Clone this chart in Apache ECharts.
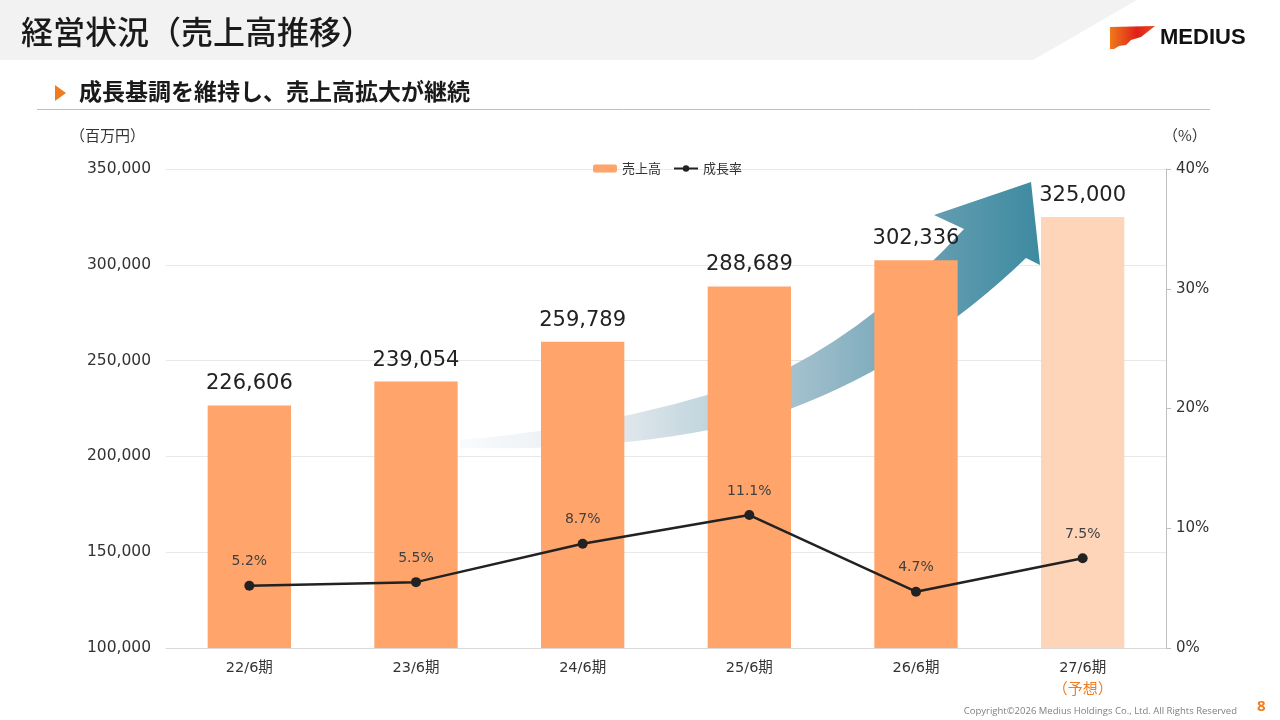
<!DOCTYPE html>
<html>
<head>
<meta charset="utf-8">
<script src="https://cdn.jsdelivr.net/npm/echarts@6/dist/echarts.min.js"></script>
<style>
  html, body { margin: 0; padding: 0; background: #fff; }
  #chart { width: 1280px; height: 720px; }
</style>
</head>
<body>
<div id="chart"></div>
<script>
const categories = ['22/6期', '23/6期', '24/6期', '25/6期', '26/6期', '27/6期'];
const sales = [226606, 239054, 259789, 288689, 302336, 325000];
const growth = [5.2, 5.5, 8.7, 11.1, 4.7, 7.5];
const forecast = [false, false, false, false, false, true];
const leftTicks = { min: 100000, max: 350000, interval: 50000 };
const rightTicks = { min: 0, max: 40, interval: 10 };

const JP = '"Noto Sans CJK JP", "Noto Sans", sans-serif';
const NUM = '"DejaVu Sans", "Noto Sans CJK JP", sans-serif';
const BAR = '#ffa46a';
const BAR_FC = '#ffd5ba';
const ORANGE = '#f07c1e';

// decorative growth arrow behind the bars
echarts.graphic.registerShape('growthArrow', echarts.graphic.extendShape({
  shape: {},
  buildPath(ctx) {
    ctx.moveTo(460, 440);
    ctx.quadraticCurveTo(640, 425, 790, 367);
    ctx.quadraticCurveTo(880, 320, 964, 229);
    ctx.lineTo(934, 215);
    ctx.lineTo(1031, 182);
    ctx.lineTo(1040, 265);
    ctx.lineTo(1026, 258);
    ctx.quadraticCurveTo(920, 360, 790, 409);
    ctx.quadraticCurveTo(660, 452, 460, 448);
    ctx.closePath();
  }
}));

const barData = sales.map((v, i) => ({
  value: v,
  itemStyle: { color: forecast[i] ? BAR_FC : BAR }
}));

const chart = echarts.init(document.getElementById('chart'));
chart.setOption({
  backgroundColor: '#fff',
  animation: false,
  textStyle: { fontFamily: NUM },
  grid: { left: 166, right: 114, top: 169, bottom: 72 },
  legend: {
    left: 588, top: 157,
    itemWidth: 24, itemHeight: 8, itemGap: 12,
    textStyle: { fontSize: 13, color: '#333', fontFamily: JP },
    data: ['売上高', '成長率']
  },
  xAxis: {
    type: 'category',
    data: categories,
    axisLine: { lineStyle: { color: '#d9d9d9', width: 1 } },
    axisTick: { show: false },
    axisLabel: {
      margin: 10, fontSize: 14.5, color: '#333', lineHeight: 20, fontFamily: NUM,
      formatter: (v, i) => forecast[i] ? v + '\n{f|（予想）}' : v,
      rich: { f: { color: ORANGE, fontSize: 15, lineHeight: 20, fontFamily: JP } }
    }
  },
  yAxis: [
    {
      type: 'value', ...leftTicks,
      axisLine: { show: false },
      axisTick: { show: false },
      splitLine: { lineStyle: { color: '#e8e8e8' } },
      axisLabel: {
        margin: 15, fontSize: 15.5, color: '#333', fontFamily: NUM,
        formatter: v => v.toLocaleString('en-US')
      }
    },
    {
      type: 'value', ...rightTicks,
      position: 'right',
      axisLine: { show: true, lineStyle: { color: '#bfbfbf' } },
      axisTick: { show: true, length: 5, lineStyle: { color: '#bfbfbf' } },
      splitLine: { show: false },
      axisLabel: { margin: 10, fontSize: 15, color: '#333', fontFamily: NUM, formatter: '{value}%' }
    }
  ],
  series: [
    {
      name: '売上高',
      type: 'bar',
      barWidth: '50%',
      itemStyle: { color: BAR },
      data: barData,
      label: {
        show: true, position: 'top', distance: 11,
        fontSize: 21, color: '#222', fontFamily: NUM,
        formatter: p => p.value.toLocaleString('en-US')
      },
      z: 3
    },
    {
      name: '成長率',
      type: 'line',
      yAxisIndex: 1,
      data: growth,
      symbol: 'circle',
      symbolSize: 10,
      lineStyle: { color: '#222', width: 2.5 },
      itemStyle: { color: '#222' },
      label: {
        show: true, position: 'top', distance: 12,
        fontSize: 14, color: '#404040', fontFamily: NUM,
        formatter: p => p.value + '%'
      },
      z: 4
    }
  ],
  graphic: [
    // header band
    { type: 'polygon', z: -10, shape: { points: [[0, 0], [1137, 0], [1033, 60], [0, 60]] },
      style: { fill: '#f2f2f2' } },
    { type: 'text', x: 21, y: 16,
      style: { text: '経営状況（売上高推移）', fontSize: 32, fontWeight: 500, fill: '#1a1a1a', fontFamily: JP } },
    // logo
    { type: 'polygon', shape: { points: [[1110, 27], [1155, 26], [1141, 37], [1131, 40], [1126, 45], [1119, 46], [1114, 49], [1110, 49]] },
      style: { fill: { type: 'linear', x: 0, y: 0, x2: 1, y2: 0,
        colorStops: [{ offset: 0, color: '#f07a1a' }, { offset: 0.6, color: '#e0201a' }, { offset: 1, color: '#e84a1a' }] } } },
    { type: 'text', x: 1160, y: 27,
      style: { text: 'MEDIUS', fontSize: 22, fontWeight: 'bold', fill: '#111', fontFamily: '"Liberation Sans", Arial, sans-serif' } },
    // subtitle
    { type: 'polygon', shape: { points: [[55, 85], [66, 93], [55, 101]] }, style: { fill: ORANGE } },
    { type: 'text', x: 79, y: 80,
      style: { text: '成長基調を維持し、売上高拡大が継続', fontSize: 23, fontWeight: 'bold', fill: '#1a1a1a', fontFamily: JP } },
    { type: 'line', shape: { x1: 37, y1: 109.5, x2: 1210, y2: 109.5 }, style: { stroke: '#bfbfbf', lineWidth: 1 } },
    // axis units
    { type: 'text', x: 70, y: 128, style: { text: '（百万円）', fontSize: 15, fill: '#333', fontFamily: JP } },
    { type: 'text', x: 1163, y: 128, style: { text: '（%）', fontSize: 15, fill: '#333', fontFamily: JP } },
    // growth arrow
    { type: 'growthArrow', z: 1,
      style: { fill: { type: 'linear', global: true, x: 455, y: 0, x2: 1040, y2: 0,
        colorStops: [
          { offset: 0, color: 'rgba(235,240,244,0.3)' },
          { offset: 0.3, color: '#dde6eb' },
          { offset: 0.6, color: '#9fbecb' },
          { offset: 0.85, color: '#5d9aae' },
          { offset: 1, color: '#3d8aa0' }
        ] } } },
    // footer
    { type: 'text', x: 1237, y: 706,
      style: { text: 'Copyright©2026 Medius Holdings Co., Ltd. All Rights Reserved', align: 'right', fontSize: 9.5, fill: '#808080', fontFamily: '"Open Sans", sans-serif' } },
    { type: 'text', x: 1257, y: 699,
      style: { text: '8', fontSize: 15, fontWeight: 'bold', fill: ORANGE, fontFamily: '"Open Sans", sans-serif' } }
  ]
});
window.addEventListener('resize', () => chart.resize());
</script>
</body>
</html>
